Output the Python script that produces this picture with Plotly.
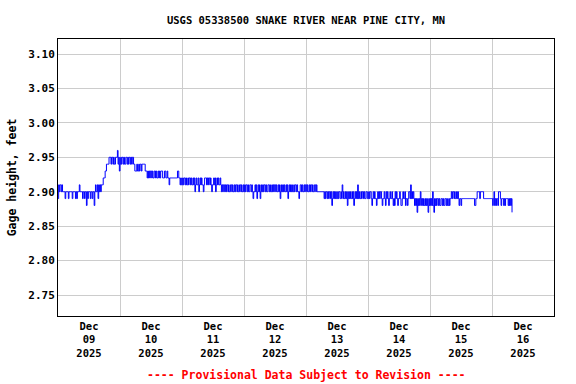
import plotly.graph_objects as go
import pandas as pd

title_text = "USGS 05338500 SNAKE RIVER NEAR PINE CITY, MN"
y_title = "Gage height, feet"
footer_text = "---- Provisional Data Subject to Revision ----"
start_time = "2025-12-09 00:00"
x_range = ["2025-12-09 00:00", "2025-12-17 00:00"]
y_range = [2.7195, 3.1218]
y_ticks = [2.75, 2.80, 2.85, 2.90, 2.95, 3.00, 3.05, 3.10]

# 15-minute gage height readings, coded as hundredths of a foot above 2.87 ft
# (0 = 2.87, 1 = 2.88, ... 9 = 2.96); one string per day, 4 readings per hour
base_level = 2.87
dec09 = ("2434" "4343" "3332" "3333" "2333" "3323" "3332" "3233" "3433" "3323" "3233" "1323"
         "3323" "3233" "1343" "3424" "3434" "4455" "5667" "7778" "8878" "8787" "7888" "9786")
dec10 = ("7878" "8787" "7887" "8788" "7878" "8776" "6676" "6767" "7677" "7776" "6656" "5656"
         "6565" "5665" "6556" "5656" "6655" "5665" "5655" "4555" "5555" "5555" "5665" "5454")
dec11 = ("4545" "5454" "4545" "5454" "4545" "3454" "4534" "5454" "4345" "5545" "4554" "5434"
         "4545" "3454" "5445" "4343" "4434" "3443" "4334" "4343" "3434" "4343" "3443" "4334")
dec12 = ("3434" "4343" "3443" "4323" "3434" "2343" "4234" "3434" "4343" "3443" "4334" "3434"
         "4343" "3434" "2343" "4343" "3434" "2343" "4343" "3434" "4343" "3234" "4343" "3434")
dec13 = ("4343" "3434" "4343" "3443" "4333" "3333" "3333" "2323" "3232" "3323" "1232" "3232"
         "2323" "3223" "4232" "2323" "1232" "3223" "2312" "3232" "4232" "2323" "3232" "2332")
dec14 = ("2323" "3212" "3232" "2123" "2323" "3212" "2321" "3232" "1232" "2321" "2132" "3212"
         "2321" "1232" "2312" "2123" "3242" "3232" "1212" "0212" "1321" "2121" "1212" "1021")
dec15 = ("2121" "3102" "1212" "2121" "1221" "2112" "2121" "1212" "2323" "3232" "2323" "2122"
         "1222" "2222" "2222" "2222" "2222" "2112" "2333" "3233" "3332" "2222" "2222" "2222")
dec16 = ("2123" "1212" "2133" "3212" "2212" "1222" "2121" "2120")
daily_codes = [dec09, dec10, dec11, dec12, dec13, dec14, dec15, dec16]

gage_height = [round(base_level + int(c) * 0.01, 2) for day in daily_codes for c in day]
times = pd.date_range(start_time, periods=len(gage_height), freq="15min")

FONT = "DejaVu Sans Mono"

fig = go.Figure()
fig.add_trace(go.Scatter(
    x=times, y=gage_height, mode="lines",
    line=dict(color="#0000ff", width=1, shape="hv"),
    showlegend=False, hoverinfo="x+y",
))

fig.update_layout(
    width=576, height=384,
    margin=dict(l=58, r=22, t=39, b=68),
    paper_bgcolor="white", plot_bgcolor="white",
    font=dict(family=FONT, size=11, color="black", weight="bold"),
    title=dict(text=title_text, x=0.5, xref="paper", y=1 - 20 / 384, yref="container",
               yanchor="middle", xanchor="center", automargin=False,
               font=dict(family=FONT, size=10.5, color="black", weight="bold")),
    xaxis=dict(
        range=x_range, type="date", automargin=False,
        tick0="2025-12-09", dtick=86400000,
        ticklabelmode="period", tickformat="%b<br>%d<br>%Y",
        showgrid=True, gridcolor="#cccccc", gridwidth=1,
        showline=True, linecolor="black", linewidth=1, mirror=True,
        ticks="", zeroline=False,
        tickfont=dict(family=FONT, size=10.5, color="black", weight="bold"),
    ),
    yaxis=dict(
        range=y_range, tickvals=y_ticks, tickformat=".2f", automargin=False,
        showgrid=True, gridcolor="#cccccc", gridwidth=1,
        showline=True, linecolor="black", linewidth=1, mirror=True,
        ticks="", zeroline=False,
        tickfont=dict(family=FONT, size=11, color="black", weight="bold"),
        title=dict(text=y_title, standoff=9,
                   font=dict(family=FONT, size=11.5, color="black", weight="bold")),
    ),
    annotations=[dict(
        text=footer_text, xref="paper", yref="paper", x=0.5, y=-(375 - 316) / 277,
        xanchor="center", yanchor="middle", showarrow=False,
        font=dict(family=FONT, size=11.5, color="#ff0000", weight="bold"),
    )],
)

fig.write_html("out.html", config={"displayModeBar": False},
               post_script="document.body.style.margin='0';")
